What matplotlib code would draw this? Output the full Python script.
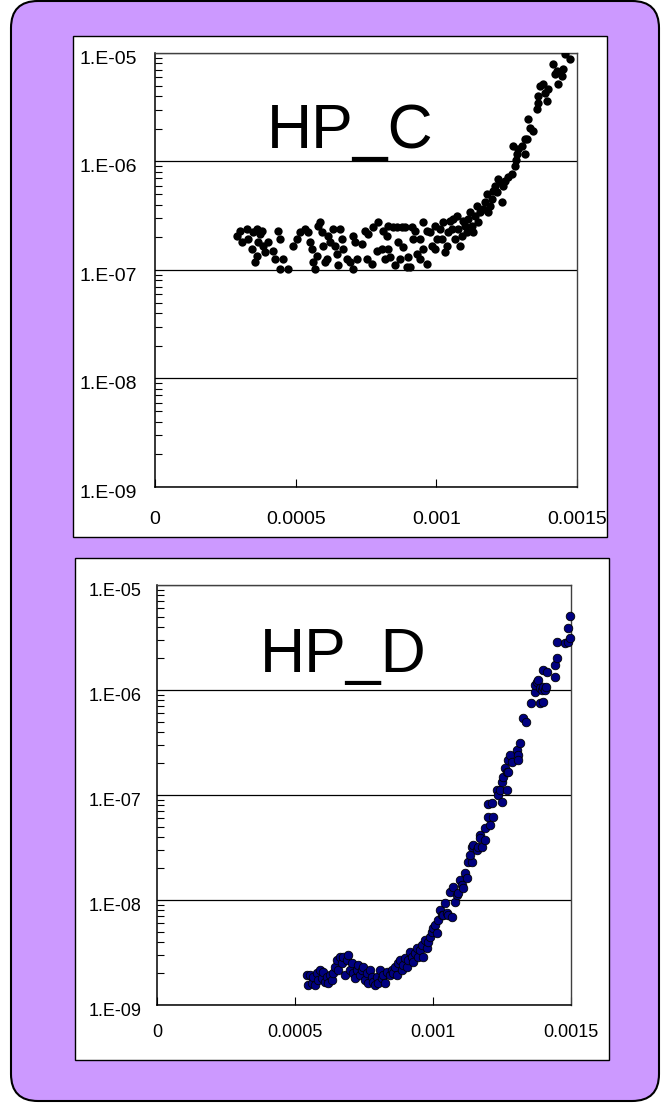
import numpy as np
import matplotlib
matplotlib.use('Agg')
import matplotlib.pyplot as plt
from matplotlib.patches import FancyBboxPatch, Rectangle
from matplotlib.ticker import LogLocator, FixedLocator, NullLocator
import matplotlib.transforms as mtransforms

plt.rcParams['font.family'] = ['Liberation Sans', 'DejaVu Sans']

# HP_C data (black dots)
hpc_x = [2.90e-4, 3.02e-4, 3.08e-4, 3.26e-4, 3.32e-4, 3.44e-4, 3.49e-4, 3.62e-4, 3.67e-4, 3.73e-4,
         3.79e-4, 3.62e-4, 3.55e-4, 3.85e-4, 3.91e-4, 4.03e-4, 4.21e-4, 4.27e-4, 4.38e-4, 4.44e-4,
         4.44e-4, 4.56e-4, 4.74e-4, 4.92e-4, 5.04e-4, 5.15e-4, 5.33e-4, 5.45e-4, 5.51e-4, 5.57e-4,
         5.63e-4, 5.69e-4, 5.75e-4, 5.81e-4, 5.87e-4, 5.93e-4, 5.98e-4, 6.04e-4, 6.10e-4, 6.16e-4,
         6.22e-4, 6.34e-4, 6.40e-4, 6.46e-4, 6.52e-4, 6.58e-4, 6.64e-4, 6.69e-4, 6.81e-4, 6.93e-4,
         7.05e-4, 7.11e-4, 7.05e-4, 7.17e-4,
         7.35e-4, 7.46e-4, 7.52e-4, 7.58e-4, 7.70e-4, 7.76e-4, 7.88e-4, 7.94e-4, 8.06e-4, 8.11e-4,
         8.18e-4, 8.24e-4, 8.29e-4, 8.29e-4, 8.35e-4, 8.47e-4, 8.53e-4, 8.59e-4, 8.65e-4, 8.71e-4,
         8.77e-4, 8.83e-4, 8.89e-4, 8.95e-4, 9.00e-4, 9.06e-4, 9.12e-4, 9.18e-4, 9.24e-4, 9.30e-4,
         9.42e-4, 9.42e-4, 9.54e-4, 9.54e-4, 9.66e-4, 9.66e-4,
         9.78e-4, 9.84e-4, 9.95e-4, 9.95e-4, 1.001e-3, 1.013e-3, 1.019e-3, 1.025e-3, 1.031e-3, 1.037e-3,
         1.043e-3, 1.049e-3, 1.055e-3, 1.060e-3, 1.066e-3, 1.072e-3, 1.078e-3, 1.084e-3, 1.090e-3, 1.096e-3,
         1.102e-3, 1.108e-3, 1.114e-3, 1.120e-3, 1.126e-3, 1.131e-3, 1.137e-3, 1.144e-3, 1.149e-3, 1.155e-3,
         1.167e-3, 1.173e-3, 1.179e-3, 1.185e-3, 1.191e-3, 1.197e-3, 1.203e-3, 1.209e-3, 1.215e-3, 1.220e-3,
         1.226e-3, 1.232e-3, 1.238e-3, 1.244e-3, 1.256e-3, 1.268e-3, 1.280e-3, 1.283e-3, 1.288e-3, 1.274e-3,
         1.291e-3, 1.303e-3, 1.315e-3, 1.315e-3, 1.321e-3, 1.327e-3, 1.333e-3, 1.345e-3, 1.357e-3, 1.362e-3,
         1.362e-3, 1.369e-3, 1.380e-3, 1.386e-3, 1.392e-3, 1.398e-3, 1.416e-3, 1.422e-3, 1.428e-3, 1.434e-3,
         1.446e-3, 1.451e-3, 1.457e-3, 1.475e-3]
hpc_y = [2.07e-7, 2.30e-7, 1.80e-7, 2.39e-7, 1.93e-7, 1.56e-7, 2.23e-7, 2.39e-7, 1.80e-7, 2.15e-7,
         2.30e-7, 1.35e-7, 1.18e-7, 1.67e-7, 1.46e-7, 1.80e-7, 1.51e-7, 1.26e-7, 2.30e-7, 1.93e-7,
         1.02e-7, 1.26e-7, 1.02e-7, 1.67e-7, 1.93e-7, 2.23e-7, 2.39e-7, 2.23e-7, 1.80e-7, 1.56e-7,
         1.18e-7, 1.02e-7, 1.35e-7, 2.56e-7, 2.75e-7, 2.23e-7, 1.67e-7, 1.18e-7, 1.26e-7, 2.07e-7,
         1.80e-7, 2.39e-7, 1.67e-7, 1.40e-7, 1.10e-7, 2.39e-7, 1.93e-7, 1.56e-7, 1.26e-7, 1.18e-7,
         2.07e-7, 1.80e-7, 1.02e-7, 1.26e-7,
         1.74e-7, 2.30e-7, 1.26e-7, 2.15e-7, 1.14e-7, 2.47e-7, 1.51e-7, 2.75e-7, 1.56e-7, 2.30e-7,
         1.26e-7, 2.07e-7, 2.56e-7, 1.56e-7, 1.31e-7, 2.47e-7, 1.10e-7, 2.47e-7, 1.80e-7, 1.26e-7,
         2.47e-7, 1.62e-7, 2.47e-7, 1.06e-7, 1.31e-7, 1.06e-7, 2.47e-7, 1.93e-7, 2.30e-7, 1.40e-7,
         1.93e-7, 1.26e-7, 2.75e-7, 1.56e-7, 2.30e-7, 1.14e-7,
         2.23e-7, 1.67e-7, 2.56e-7, 1.56e-7, 1.93e-7, 2.39e-7, 1.93e-7, 2.75e-7, 1.46e-7, 1.67e-7,
         2.23e-7, 2.85e-7, 2.39e-7, 2.95e-7, 1.93e-7, 3.17e-7, 2.39e-7, 1.67e-7, 2.07e-7, 2.85e-7,
         2.56e-7, 2.23e-7, 2.95e-7, 3.40e-7, 2.56e-7, 2.23e-7, 3.17e-7, 3.91e-7, 2.75e-7, 3.40e-7,
         3.65e-7, 4.21e-7, 5.02e-7, 3.40e-7, 3.91e-7, 4.51e-7, 5.38e-7, 5.98e-7, 5.20e-7, 6.90e-7,
         6.43e-7, 4.21e-7, 5.98e-7, 6.67e-7, 7.15e-7, 7.67e-7, 9.15e-7, 1.04e-6, 1.16e-6, 1.38e-6,
         1.29e-6, 1.38e-6, 1.60e-6, 1.16e-6, 1.60e-6, 2.44e-6, 2.05e-6, 1.90e-6, 3.02e-6, 3.48e-6,
         4.00e-6, 4.94e-6, 5.13e-6, 4.30e-6, 3.60e-6, 4.61e-6, 7.84e-6, 6.34e-6, 6.80e-6, 5.13e-6,
         6.11e-6, 7.05e-6, 9.69e-6, 8.71e-6]

# HP_D data (navy dots)
hpd_x = [5.43e-4, 5.47e-4,
         5.54e-4, 5.61e-4, 5.66e-4, 5.72e-4, 5.79e-4, 5.84e-4, 5.91e-4, 5.97e-4, 6.03e-4, 6.09e-4,
         6.15e-4, 6.21e-4, 6.27e-4, 6.33e-4, 6.39e-4, 6.45e-4, 6.51e-4, 6.57e-4, 6.63e-4, 6.69e-4,
         6.75e-4, 6.81e-4, 6.87e-4, 6.93e-4, 6.99e-4, 7.05e-4, 7.11e-4, 7.17e-4, 7.24e-4, 7.29e-4,
         7.36e-4, 7.42e-4, 7.47e-4, 7.54e-4, 7.60e-4, 7.66e-4, 7.72e-4, 7.78e-4, 7.84e-4, 7.90e-4,
         7.96e-4, 8.02e-4, 8.08e-4, 8.14e-4, 8.20e-4, 8.26e-4, 8.32e-4, 8.44e-4, 8.50e-4, 8.56e-4,
         8.62e-4, 8.68e-4, 8.74e-4, 8.80e-4, 8.87e-4, 8.92e-4, 8.99e-4, 9.05e-4, 9.11e-4, 9.17e-4,
         9.23e-4, 9.29e-4, 9.35e-4, 9.41e-4, 9.47e-4, 9.53e-4, 9.59e-4, 9.65e-4, 9.71e-4, 9.77e-4,
         9.83e-4, 9.89e-4, 9.95e-4, 1.001e-3, 1.007e-3, 1.013e-3, 1.019e-3, 1.025e-3, 1.032e-3, 1.037e-3,
         1.043e-3, 1.050e-3, 1.055e-3, 1.062e-3, 1.068e-3, 1.074e-3, 1.080e-3, 1.086e-3, 1.092e-3, 1.098e-3,
         1.104e-3, 1.110e-3, 1.116e-3, 1.122e-3, 1.128e-3,
         1.140e-3, 1.134e-3, 1.140e-3, 1.146e-3, 1.158e-3, 1.164e-3, 1.170e-3, 1.170e-3, 1.176e-3, 1.188e-3,
         1.188e-3, 1.207e-3, 1.200e-3, 1.218e-3, 1.200e-3, 1.213e-3, 1.231e-3, 1.237e-3, 1.243e-3, 1.249e-3,
         1.249e-3, 1.255e-3, 1.261e-3, 1.267e-3, 1.267e-3, 1.273e-3, 1.279e-3, 1.285e-3, 1.273e-3, 1.303e-3,
         1.309e-3, 1.309e-3, 1.315e-3, 1.327e-3, 1.337e-3, 1.354e-3, 1.370e-3, 1.370e-3, 1.376e-3, 1.382e-3,
         1.388e-3, 1.394e-3, 1.400e-3, 1.406e-3, 1.409e-3, 1.388e-3, 1.400e-3, 1.400e-3, 1.412e-3, 1.442e-3,
         1.442e-3, 1.448e-3, 1.448e-3, 1.478e-3, 1.490e-3, 1.490e-3, 1.496e-3, 1.496e-3]
hpd_y = [1.93e-9, 1.55e-9,
         1.93e-9, 1.61e-9, 1.86e-9, 1.55e-9, 2.00e-9, 1.73e-9, 2.15e-9, 1.80e-9, 2.08e-9, 1.67e-9,
         1.86e-9, 1.61e-9, 1.93e-9, 1.73e-9, 2.00e-9, 2.32e-9, 2.68e-9, 2.15e-9, 2.88e-9, 2.49e-9,
         2.88e-9, 1.93e-9, 2.68e-9, 2.99e-9, 2.15e-9, 2.49e-9, 2.00e-9, 1.80e-9, 2.15e-9, 2.40e-9,
         1.93e-9, 2.15e-9, 2.32e-9, 1.73e-9, 2.00e-9, 1.61e-9, 2.15e-9, 1.86e-9, 1.67e-9, 1.55e-9,
         1.86e-9, 1.61e-9, 2.15e-9, 1.80e-9, 1.93e-9, 1.61e-9, 2.08e-9, 1.93e-9, 2.15e-9, 2.00e-9,
         2.32e-9, 1.93e-9, 2.49e-9, 2.68e-9, 2.15e-9, 2.40e-9, 2.78e-9, 2.32e-9, 2.68e-9, 3.22e-9,
         2.88e-9, 2.59e-9, 3.11e-9, 3.47e-9, 2.88e-9, 3.34e-9, 3.73e-9, 2.88e-9, 4.16e-9, 3.47e-9,
         4.01e-9, 4.47e-9, 4.99e-9, 5.37e-9, 5.78e-9, 4.82e-9, 6.45e-9, 8.03e-9, 7.20e-9, 7.20e-9,
         9.30e-9, 7.47e-9, 7.20e-9, 1.20e-8, 6.93e-9, 1.34e-8, 9.63e-9, 1.12e-8, 1.16e-8, 1.55e-8,
         1.39e-8, 1.29e-8, 1.80e-8, 1.61e-8, 2.32e-8,
         2.32e-8, 2.68e-8, 3.22e-8, 3.34e-8, 2.99e-8, 3.22e-8, 4.16e-8, 3.87e-8, 3.22e-8, 3.73e-8,
         4.82e-8, 5.18e-8, 6.21e-8, 6.21e-8, 8.21e-8, 8.34e-8, 1.12e-7, 1.00e-7, 1.12e-7, 8.63e-8,
         1.34e-7, 1.49e-7, 1.80e-7, 1.67e-7, 1.12e-7, 2.15e-7, 2.40e-7, 2.08e-7, 1.67e-7, 2.68e-7,
         2.40e-7, 2.15e-7, 3.11e-7, 5.37e-7, 4.99e-7, 7.47e-7, 9.63e-7, 1.12e-6, 1.20e-6, 1.25e-6,
         1.04e-6, 1.00e-6, 1.08e-6, 1.00e-6, 1.08e-6, 7.47e-7, 7.74e-7, 1.55e-6, 1.49e-6, 1.73e-6,
         1.32e-6, 2.00e-6, 2.88e-6, 2.82e-6, 2.88e-6, 3.87e-6, 3.11e-6, 5.07e-6]

x_ticks = [0, 0.0005, 0.001, 0.0015]
x_labels = ['0', '0.0005', '0.001', '0.0015']
y_ticks = [1e-9, 1e-8, 1e-7, 1e-6, 1e-5]
y_labels = ['1.E-09', '1.E-08', '1.E-07', '1.E-06', '1.E-05']

fig = plt.figure(figsize=(6.62, 11.03), dpi=100)
fig.patch.set_facecolor('white')

# purple rounded background
bg = FancyBboxPatch((0.11, 0.02), 6.48, 11.0, boxstyle='round,pad=0,rounding_size=0.27',
                    transform=fig.dpi_scale_trans, facecolor='#CC99FF', edgecolor='black',
                    linewidth=1.5, zorder=-3)
fig.add_artist(bg)

# white panels
for (x0, y0, w, h) in [(0.73, 5.66, 5.34, 5.01), (0.75, 0.43, 5.34, 5.02)]:
    fig.add_artist(Rectangle((x0, y0), w, h, transform=fig.dpi_scale_trans,
                             facecolor='white', edgecolor='black', linewidth=1.0, zorder=-2))


def style_axes(ax, fs, xpad, ypad):
    ax.set_yscale('log')
    ax.set_xlim(0, 0.0015)
    ax.set_ylim(1e-9, 1e-5)
    ax.set_facecolor('none')
    ax.xaxis.set_major_locator(FixedLocator(x_ticks))
    ax.set_xticklabels(x_labels)
    ax.xaxis.set_minor_locator(NullLocator())
    ax.yaxis.set_major_locator(FixedLocator(y_ticks))
    ax.set_yticklabels(y_labels)
    ax.yaxis.set_minor_locator(LogLocator(base=10, subs=range(2, 10)))
    ax.yaxis.set_minor_formatter(plt.NullFormatter())
    ax.tick_params(axis='x', direction='in', length=6, width=0.8, labelsize=fs, pad=xpad)
    ax.tick_params(axis='y', which='major', direction='in', length=0, labelsize=fs, pad=ypad)
    ax.tick_params(axis='y', which='minor', direction='in', length=5, width=0.8)
    ax.grid(axis='y', which='major', color='black', linewidth=0.9)
    ax.set_axisbelow(True)
    for s in ['left', 'bottom']:
        ax.spines[s].set_color('black')
        ax.spines[s].set_linewidth(1.1)
    for s in ['top', 'right']:
        ax.spines[s].set_color('#404040')
        ax.spines[s].set_linewidth(1.0)
    off = mtransforms.ScaledTranslation(0, -3 / 72, fig.dpi_scale_trans)
    for lbl in ax.get_yticklabels():
        lbl.set_transform(lbl.get_transform() + off)


ax1 = fig.add_axes([0.2341, 0.5585, 0.6375, 0.3935])
ax1.scatter(hpc_x, hpc_y, s=36, color='black', linewidths=0, zorder=3)
style_axes(ax1, 14, 17, 13)
ax1.text(0.462, 0.78, 'HP_C', transform=ax1.transAxes, fontsize=45,
         ha='center', va='baseline')

ax2 = fig.add_axes([0.2372, 0.0888, 0.6254, 0.3808])
ax2.scatter(hpd_x, hpd_y, s=38, facecolor='#000080', edgecolor='black',
            linewidths=0.6, zorder=3, clip_on=False)
style_axes(ax2, 13, 14, 11)
ax2.text(0.449, 0.793, 'HP_D', transform=ax2.transAxes, fontsize=45,
         ha='center', va='baseline')

plt.savefig('out.png', dpi=100)
